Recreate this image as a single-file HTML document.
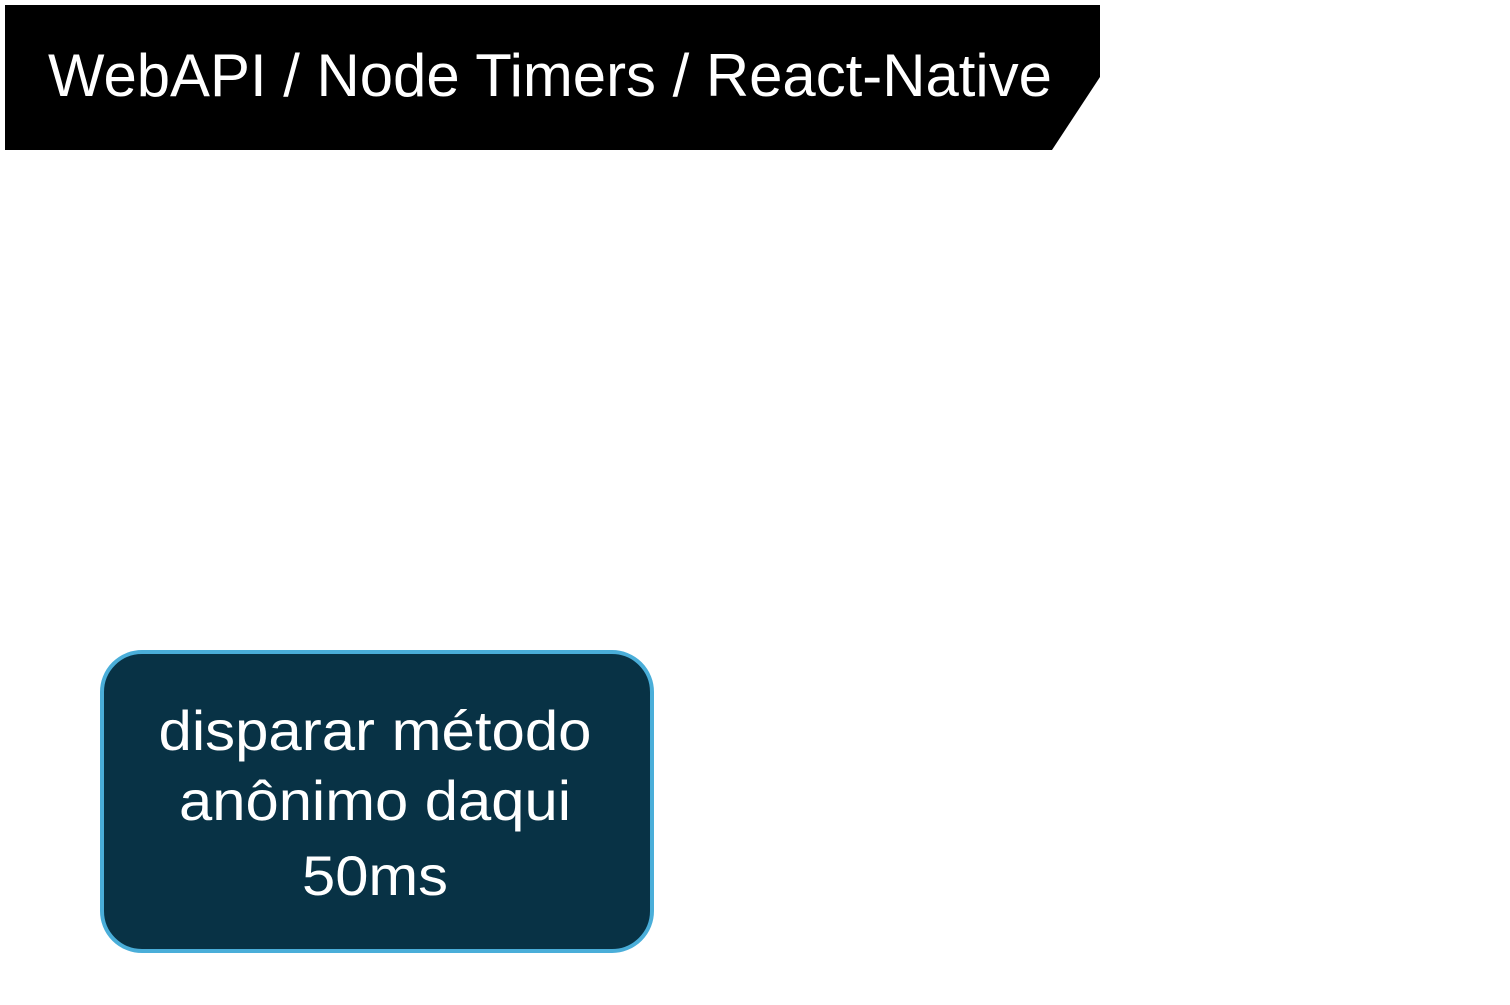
<!DOCTYPE html>
<html><head><meta charset="utf-8"><style>html,body{margin:0;padding:0;background:#fff;width:1510px;height:1005px;overflow:hidden}</style></head>
<body>
<svg width="1510" height="1005" xmlns="http://www.w3.org/2000/svg" font-family="Liberation Sans, Arial, sans-serif">
<polygon points="5,5 1100,5 1100,77 1052,150 5,150" fill="#000"/>
<text x="48" y="96" font-size="60" fill="#fff" textLength="1004" lengthAdjust="spacingAndGlyphs">WebAPI / Node Timers / React-Native</text>
<rect x="102" y="652" width="550" height="299" rx="40" ry="40" fill="#083245" stroke="#4aaed9" stroke-width="4"/>
<g fill="#fff" font-size="56" text-anchor="middle">
<text x="375" y="750" textLength="433" lengthAdjust="spacingAndGlyphs">disparar método</text>
<text x="375" y="820" textLength="392" lengthAdjust="spacingAndGlyphs">anônimo daqui</text>
<text x="375" y="895" textLength="146" lengthAdjust="spacingAndGlyphs">50ms</text>
</g>
</svg>
</body></html>
